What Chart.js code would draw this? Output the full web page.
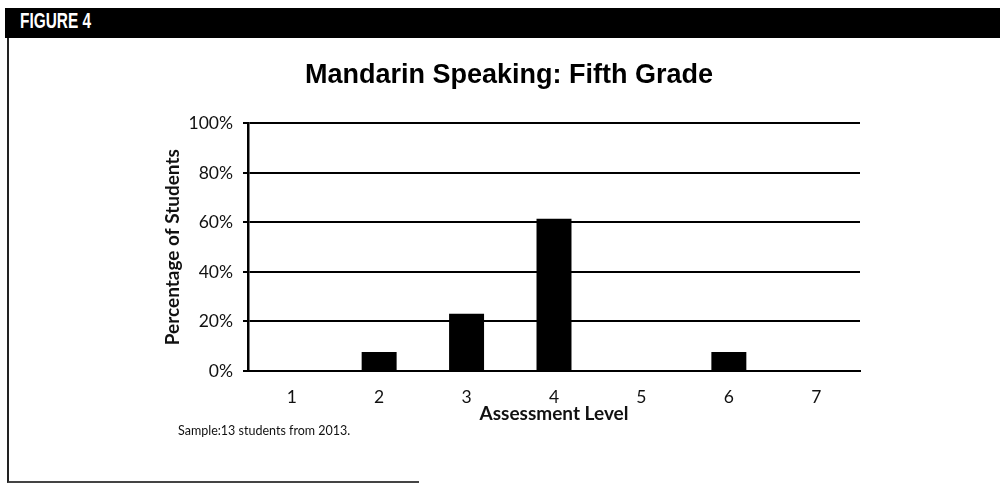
<!DOCTYPE html>
<html>
<head>
<meta charset="utf-8">
<script src="https://cdn.jsdelivr.net/npm/chart.js@4"></script>
<style>
  html, body { margin: 0; padding: 0; background: #fff; }
  #wrap { position: relative; width: 1000px; height: 491px; overflow: hidden; }
  #header {
    position: absolute; left: 5px; top: 8px; width: 995px; height: 30px;
    background: #000; color: #fff;
    line-height: 30px; padding-left: 15px; box-sizing: border-box;
  }
  #header span {
    display: inline-block; transform: scaleX(0.7); transform-origin: left center;
    font: bold 22px "Liberation Sans", Arial, sans-serif;
  }
  #frame {
    position: absolute; left: 7px; top: 38px; width: 410px; height: 443px;
    border-left: 2px solid #222; border-bottom: 2px solid #444;
  }
  #note {
    position: absolute; left: 178px; top: 423px;
    font: 12.5px Lato, "Open Sans", sans-serif; color: #111;
  }
  #chart-box { position: absolute; left: 0; top: 0; width: 1000px; height: 491px; }
</style>
</head>
<body>
<div id="wrap">
  <div id="frame"></div>
  <div id="header"><span>FIGURE 4</span></div>
  <div id="chart-box"><canvas id="chart"></canvas></div>
  <div id="note">Sample:13 students from 2013.</div>
</div>
<script>
// DATA
const levels = ["1", "2", "3", "4", "5", "6", "7"];
// 13 students: 0,1,3,8,0,1,0
const pctStudents = [0, 7.7, 23.1, 61.5, 0, 7.7, 0];
const yTicks = [0, 20, 40, 60, 80, 100];

const tickFont = { family: "Lato, 'Open Sans', sans-serif", size: 17.5 };
const boldFont = { family: "Lato, 'Open Sans', sans-serif", size: 19, weight: "bold" };

new Chart(document.getElementById("chart"), {
  type: "bar",
  data: {
    labels: levels,
    datasets: [{
      data: pctStudents,
      backgroundColor: "#000",
      borderWidth: 0,
      categoryPercentage: 1,
      barPercentage: 0.4,
    }],
  },
  options: {
    responsive: true,
    maintainAspectRatio: false,
    animation: false,
    layout: { padding: { left: 158, right: 140, top: 47, bottom: 62 } },
    plugins: {
      legend: { display: false },
      tooltip: { enabled: false },
      title: {
        display: true,
        text: "Mandarin Speaking: Fifth Grade",
        color: "#000",
        font: { family: "'Liberation Sans', Arial, sans-serif", size: 27, weight: "bold" },
        padding: { top: 12, bottom: 32 },
      },
    },
    scales: {
      x: {
        grid: { display: false, drawTicks: false },
        border: { color: "#000", width: 2 },
        ticks: { color: "#111", font: tickFont, padding: 16 },
        title: { display: true, text: "Assessment Level", color: "#111", font: boldFont, padding: { top: 4, bottom: 4 } },
        afterFit: (s) => { s.height = 58; },
      },
      y: {
        min: 0,
        max: 100,
        afterBuildTicks: (s) => { s.ticks = yTicks.map((v) => ({ value: v })); },
        grid: { color: "#000", lineWidth: 2, tickLength: 5, tickColor: "#000" },
        border: { color: "#000", width: 2.5 },
        ticks: { color: "#111", font: tickFont, padding: 10, callback: (v) => v + "%" },
        title: { display: true, text: "Percentage of Students", color: "#111", font: boldFont, padding: { top: 3, bottom: 4 } },
        afterFit: (s) => { s.width = 90; },
      },
    },
  },
});
</script>
</body>
</html>
